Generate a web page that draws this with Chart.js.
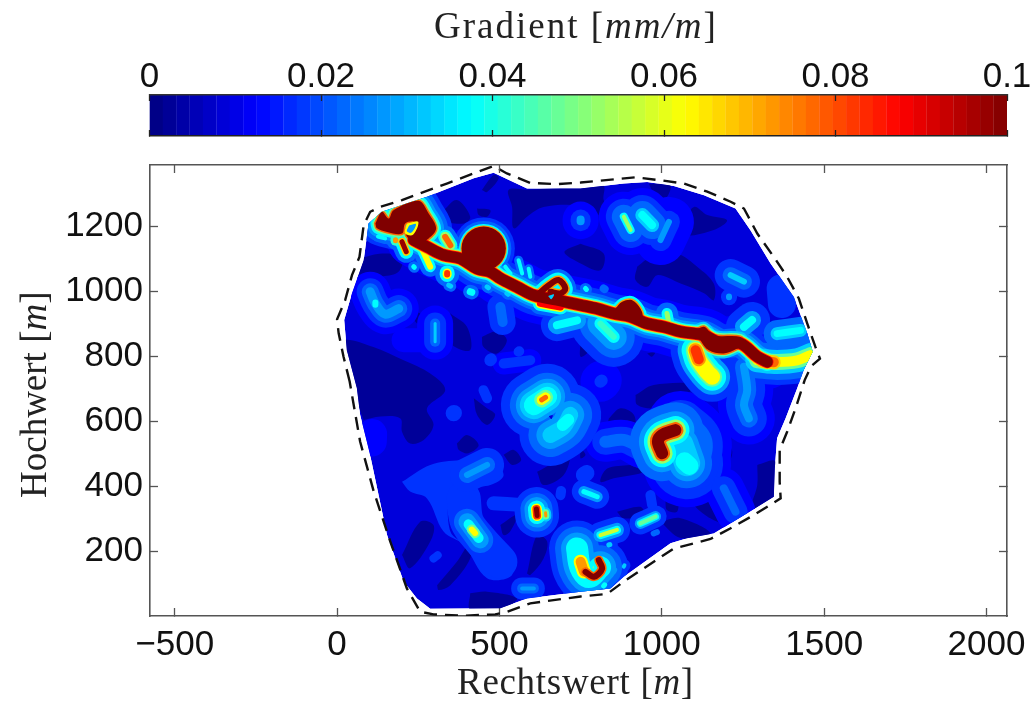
<!DOCTYPE html>
<html>
<head>
<meta charset="utf-8">
<title>Gradient</title>
<script src="https://cdn.jsdelivr.net/npm/chart.js@4"></script>
<style>
    html, body { margin: 0; padding: 0; background: #fff; }
    body { width: 1036px; height: 701px; position: relative; overflow: hidden; }
    canvas { position: absolute; left: 0; top: 0; filter: blur(0.5px); }
    .titulo { position: absolute; font-family: "Liberation Serif", serif; font-size: 37px; color: #222; white-space: nowrap; filter: blur(0.3px); }
</style>
</head>
<body>
<canvas id="mapa" width="1036" height="701"></canvas>
<canvas id="barra" width="1036" height="150"></canvas>
<div class="titulo" style="left:434px;top:4px;letter-spacing:2px">Gradient [<i>mm/m</i>]</div>
<div class="titulo" style="left:457px;top:660px;letter-spacing:0.7px">Rechtswert [<i>m</i>]</div>
<div class="titulo" style="left:12px;top:498px;transform-origin:0 0;transform:rotate(-90deg)">Hochwert [<i>m</i>]</div>
<script>
// axis ticks
const xTicks = [-500, 0, 500, 1000, 1500, 2000];
const yTicks = [200, 400, 600, 800, 1000, 1200];
const barTicks = [0, 0.02, 0.04, 0.06, 0.08, 0.1];
const barSteps = [0,1,2,3,4,5,6,7,8,9,10,11,12,13,14,15,16,17,18,19,20,21,22,23,24,25,26,27,28,29,30,31,
    32,33,34,35,36,37,38,39,40,41,42,43,44,45,46,47,48,49,50,51,52,53,54,55,56,57,58,59,60,61,62,63];

// outlines, flat x,y in metres
const fieldOutline = [61,701, 30,818, 22,911, 46,993, 82,1095, 97,1208, 138,1244, 277,1290, 421,1347, 482,1364, 518,1347, 585,1316,
    749,1316, 883,1331, 955,1336, 1037,1323, 1130,1295, 1227,1254, 1273,1187, 1335,1085, 1407,982, 1448,870, 1465,813, 1437,757,
    1417,701, 1381,608, 1355,547, 1348,454, 1345,367, 1263,316, 1160,254, 1078,239, 1027,224, 883,121, 842,85, 750,75, 585,54,
    503,24, 287,22, 246,54, 205,106, 154,249, 102,495, 71,619];
const surveyBoundary = [39,721, 20,798, 5,870, 0,913, 25,972, 46,1049, 69,1105, 82,1203, 102,1244, 133,1259, 200,1280, 338,1331,
    482,1385, 523,1362, 595,1333, 677,1329, 750,1334, 919,1350, 996,1341, 1068,1331, 1140,1306, 1212,1275, 1253,1254, 1294,1177,
    1345,1105, 1386,1044, 1422,977, 1448,900, 1473,828, 1487,792, 1460,769, 1440,726, 1412,639, 1386,567, 1363,511, 1363,413,
    1366,362, 1284,311, 1212,270, 1150,237, 1078,218, 1037,208, 945,147, 883,106, 832,68, 750,60, 595,39, 523,13, 487,5, 390,1,
    297,5, 256,13, 215,85, 164,229, 113,383, 71,537, 46,680, 39,721];

// lowest contour (navy patches)
const navyPatches = [
    [82,603, 133,614, 195,608, 200,567, 225,531, 267,542, 297,588, 277,639, 333,695, 287,746, 205,787, 112,828, 20,849, 20,800, 50,690],
    [70,1100, 130,1115, 200,1105, 190,1060, 140,1045, 60,1040],
    [328,1249, 369,1280, 410,1229, 390,1208, 328,1218],
    [431,1254, 472,1249, 462,1229, 436,1234],
    [446,1311, 482,1357, 498,1347, 462,1305],
    [585,1312, 749,1320, 820,1325, 821,1280, 852,1208, 847,1188, 791,1249, 750,1264, 636,1259, 585,1229, 544,1193, 539,1259, 528,1311],
    [960,1330, 1027,1325, 1000,1270, 980,1290],
    [1063,1208, 1099,1259, 1140,1234, 1201,1218, 1160,1188, 1068,1172],
    [924,1075, 975,1110, 1047,1116, 1109,1075, 1160,1023, 1160,972, 1130,993, 1058,1023, 986,1049, 955,1013, 919,1034],
    [750,1146, 821,1116, 811,1064, 750,1085, 700,1120],
    [349,931, 400,890, 410,818, 349,839, 328,910],
    [446,859, 492,875, 523,849, 492,808, 451,828],
    [226,931, 256,931, 277,880, 246,900],
    [421,670, 462,639, 487,619, 462,588, 431,619],
    [369,531, 400,557, 436,526, 405,501, 375,511],
    [513,496, 544,511, 567,480, 539,465],
    [616,444, 713,490, 698,434, 636,403],
    [903,465, 945,444, 852,424, 811,413, 832,454],
    [200,188, 256,290, 297,280, 287,229, 225,147],
    [308,95, 369,167, 405,218, 410,177, 349,95, 313,80],
    [585,131, 616,249, 647,229, 636,177, 595,126],
    [503,280, 554,311, 533,260, 513,249],
    [410,70, 462,75, 554,54, 503,20, 410,20],
    [919,680, 975,711, 1099,711, 1047,660, 975,639, 924,650],
    [837,608, 873,639, 914,619, 914,578, 862,557, 832,578],
    [1181,506, 1196,537, 1217,506, 1201,465, 1181,475],
    [1078,372, 1130,377, 1181,290, 1140,306, 1088,352],
    [1294,465, 1350,475, 1350,365, 1278,331, 1294,403],
    [996,290, 1058,301, 1150,254, 1058,240],
    [1011,357, 1047,357, 1047,321, 1016,326],
    [862,321, 934,336, 945,311, 883,301],
    [873,787, 914,803, 904,782, 878,777],
    [955,808, 980,813, 970,798],
    [750,516, 765,496, 750,485],
    [750,849, 775,818, 750,798]
];

// closed shapes
const southPatch = [200,413, 287,465, 380,480, 472,485, 513,434, 472,403, 359,383, 349,260, 410,219, 513,198, 539,126, 462,116,
    390,219, 328,260, 277,362, 225,383];
const crownBlob = [118,1208, 138,1244, 159,1223, 174,1249, 251,1278, 282,1239, 305,1193, 282,1162, 241,1146, 210,1182, 236,1213,
    210,1208, 200,1177, 154,1182, 123,1193];
const crownHoleRim = [216,1208, 250,1213, 234,1173, 209,1178];
const crownHole = [222,1202, 243,1206, 229,1180, 215,1184];
const humpBlob = [857,946, 878,967, 909,972, 934,946, 939,921, 883,916];
const knotBlob = [1104,880, 1130,890, 1160,864, 1242,859, 1253,839, 1232,823, 1191,808, 1145,818, 1119,849];

// streaks
const ridgeLine = [236,1157, 277,1136, 328,1111, 380,1100, 431,1069, 472,1059, 503,1039, 554,1013, 606,987, 677,972, 750,957,
    801,946, 852,931, 904,921, 955,900, 1006,890, 1058,875, 1130,864, 1181,839, 1242,839, 1294,798, 1325,782];
const circleCentre = [451,1131, 452,1131];
const loopLine = [616,987, 652,1018, 682,1034, 703,1008, 688,993, 657,998];
const loopLower = [626,962, 688,951];
const loopHole = [650,985, 668,990, 660,975];
const leftLobe = [102,998, 118,962, 148,929, 190,946];
const leftLobePeak = [118,965, 118,958];
const branchA = [261,1131, 287,1075];
const branchB = [339,1056, 339,1051];
const branchC = [333,1167, 349,1141];
const branchD = [200,1152, 213,1121];
const branchE = [180,1158, 180,1155];
const lowerLobe = [1104,818, 1114,787, 1140,751, 1155,736];
const lowerLobeHot = [1104,818, 1114,790];
const tailLine = [1294,787, 1355,782, 1417,787, 1458,803];
const tailHot = [1310,785, 1345,781];
const southFinger = [1253,767, 1263,695, 1253,650, 1268,608];
const humpHill = [811,900, 852,859];
const hillB = [677,895, 739,910];
const hillC = [1016,931, 1026,880];
const hillD = [1253,890, 1278,911];
const hillE = [1355,869, 1427,879];
const eastSpot = [1212,1049, 1253,1029];
const eastDot = [1207,983, 1207,981];
const eastPatch = [1366,1008, 1370,960];
const northA = [883,1229, 904,1188];
const northB = [940,1234, 970,1203];
const northC = [1022,1213, 996,1157];
const northD = [750,1220, 750,1215];
const centreA = [606,649, 647,675];
const centreAPeak = [630,665, 642,673];
const centreB = [718,619, 698,583, 657,557];
const centreBCore = [712,604, 695,588];
const centreHole = [652,615, 664,618, 660,606];
const crescent = [1042,572, 1001,557, 988,537, 1001,501];
const crescentHill = [1078,470, 1058,526];
const crescentCore = [1070,476, 1085,462];
const crescentWing = [1058,588, 1109,537, 1099,465];
const southA = [405,282, 436,240];
const southAWide = [400,290, 441,234];
const southAPeak = [415,266, 425,255];
const southAUp = [390,362, 400,290, 441,234, 503,167];
const southB = [400,434, 462,465];
const crossA = [614,329, 616,309];
const crossB = [642,318, 643,308];
const crossArm = [482,347, 564,342];
const crossDot = [688,372, 690,385];
const footA = [570,85, 606,85];
const footB = [297,177, 310,187];
const edgeLobe = [107,537, 108,560];
const spotA = [359,624, 360,625];
const spotB = [451,695, 462,670];
const horseshoe = [806,172, 816,145, 791,121, 765,136];
const horseshoeHot = [750,167, 760,137];
const horseshoeHalo = [739,208, 749,150, 775,120, 810,150];
const horseshoeHole = [786,147, 792,147, 789,155];
const stripeA = [811,249, 862,265];
const stripeB = [934,285, 981,306];
const stripeC = [760,383, 801,367];
const stripeD = [965,372, 970,342];
const dotA = [837,219, 840,220];
const dotB = [883,152, 885,156];
const dotC = [975,254, 985,258];
const dotD = [821,92, 824,96];
const dotE = [852,136, 855,142];
const westBar = [826,536, 883,542, 939,516];
const westDot = [760,434, 768,440];
const foreA = [1191,393, 1227,321];
const midA = [302,900, 302,844];
const midB = [205,849, 287,849];
const midC = [513,777, 595,787];
const midD = [559,813, 561,815];
const midE = [472,787, 474,790];
const midF = [811,721, 815,725];
const midG = [503,951, 510,905];
const speckA = [236,1075, 238,1073];
const speckB = [410,998, 415,996];
const speckC = [344,1018, 350,1015];
const speckD = [462,1013, 466,1010];
const speckE = [523,993, 527,990];
const speckF = [148,1162, 126,1168];
const speckG = [765,1008, 768,1005];
const speckH = [821,1008, 824,1006];
const fingerA = [518,1075, 534,1054];
const fingerB = [559,1095, 570,1054];
const fingerC = [590,1069, 595,1044];

// contour steps of the colour scale: level i is the band 0.005*i .. 0.005*(i+1), 20 is clipped at 0.1
function jet(t) {
    var canal = function (v) { return Math.round(255 * Math.max(0, Math.min(1, v))); };
    return 'rgb(' + canal(1.5 - Math.abs(4 * t - 3)) + ',' + canal(1.5 - Math.abs(4 * t - 2)) + ',' + canal(1.5 - Math.abs(4 * t - 1)) + ')';
}
function corNivel(n) {
    if (n >= 20) return 'rgb(128,0,0)';
    if (n === 1) return jet(0.09);
    return jet((n + 0.5) * 0.05);
}
function pontos(plano) {
    var lista = [];
    for (var i = 0; i < plano.length; i += 2) lista.push({ x: plano[i], y: plano[i + 1] });
    return lista;
}
function fechado(plano) {
    return pontos(plano.concat([plano[0], plano[1]]));
}

// [shape, [[level, stroke width in px], ...]]
const redBands = [[20, 0], [15, 3], [9, 6], [7, 10], [5, 16], [4, 24], [3, 32]];
const lineLayers = [
    [ridgeLine, [[20, 11], [17, 12.5], [13, 14], [9, 15.5], [7, 18], [5, 23], [4, 29], [3, 39], [2, 54]]],
    [circleCentre, [[20, 44], [14, 46], [7, 49], [4, 55], [3, 62]]],
    [loopLine, [[20, 6], [14, 9], [7, 15], [4, 22]]],
    [loopLower, [[17, 7], [12, 10], [7, 15], [4, 22]]],
    [leftLobe, [[5, 9], [4, 17], [3, 27], [2, 40]]],
    [leftLobePeak, [[7, 6]]],
    [branchA, [[12, 6], [7, 11], [4, 20]]],
    [branchB, [[16, 6], [12, 9], [7, 15], [4, 24]]],
    [branchC, [[15, 6], [10, 10], [7, 14], [4, 22]]],
    [branchD, [[19, 5], [13, 8], [7, 14], [4, 22]]],
    [branchE, [[14, 5], [8, 10], [4, 18]]],
    [lowerLobe, [[12, 16], [9, 20], [7, 28], [5, 36], [3, 50]]],
    [lowerLobeHot, [[16, 10], [14, 14]]],
    [tailLine, [[12, 10], [9, 16], [6, 24], [4, 36], [3, 46]]],
    [tailHot, [[15, 10], [13, 14]]],
    [southFinger, [[5, 8], [4, 18], [3, 36], [2, 52]]],
    [humpHill, [[8, 6], [7, 12], [5, 26], [4, 42], [3, 60]]],
    [hillB, [[7, 8], [5, 18], [3, 32]]],
    [hillC, [[10, 5], [7, 11], [4, 22]]],
    [hillD, [[7, 8], [5, 18], [3, 36]]],
    [hillE, [[7, 7], [6, 13], [4, 27]]],
    [eastSpot, [[6, 6], [4, 16], [3, 32]]],
    [eastDot, [[5, 6], [3, 16]]],
    [eastPatch, [[3, 28]]],
    [northA, [[10, 4], [7, 8], [4, 24], [3, 36], [2, 50]]],
    [northB, [[7, 8], [6, 14], [4, 28], [3, 40], [2, 54]]],
    [northC, [[5, 6], [3, 22], [2, 50]]],
    [northD, [[5, 8], [3, 20], [2, 36]]],
    [centreA, [[7, 20], [6, 28], [5, 36], [4, 48], [3, 66]]],
    [centreAPeak, [[15, 5], [12, 10], [9, 15]]],
    [centreB, [[6, 16], [5, 28], [4, 44], [3, 62]]],
    [centreBCore, [[7, 12]]],
    [crescent, [[20, 12], [15, 16], [10, 21], [7, 28], [5, 38], [4, 56]]],
    [crescentHill, [[6, 26], [5, 36], [4, 50], [3, 72], [2, 88]]],
    [crescentCore, [[7, 18]]],
    [crescentWing, [[4, 30], [3, 50], [2, 68]]],
    [southAPeak, [[12, 6], [9, 10]]],
    [southA, [[7, 10]]],
    [southAWide, [[5, 17], [4, 26]]],
    [southAUp, [[3, 34]]],
    [southB, [[5, 6], [4, 16], [3, 34]]],
    [crossA, [[20, 5], [16, 8], [12, 11], [7, 17], [5, 24], [4, 32], [3, 44]]],
    [crossB, [[14, 3], [9, 7], [6, 11]]],
    [crossArm, [[3, 14]]],
    [crossDot, [[3, 10]]],
    [footA, [[5, 4], [4, 10], [3, 22]]],
    [footB, [[3, 8]]],
    [edgeLobe, [[2, 30]]],
    [spotA, [[3, 16]]],
    [spotB, [[3, 10]]],
    [horseshoeHalo, [[7, 22], [5, 32], [4, 44], [3, 56]]],
    [horseshoeHot, [[14, 10], [12, 14]]],
    [horseshoe, [[20, 6], [15, 9]]],
    [stripeA, [[11, 4], [7, 8], [5, 14], [3, 26]]],
    [stripeB, [[9, 4], [7, 7], [5, 11], [3, 22]]],
    [stripeC, [[7, 5], [5, 11], [3, 24]]],
    [stripeD, [[3, 10]]],
    [dotA, [[6, 5], [3, 16]]],
    [dotB, [[6, 4], [3, 12]]],
    [dotC, [[4, 6]]],
    [dotD, [[7, 5], [4, 12]]],
    [dotE, [[5, 5], [3, 12]]],
    [westBar, [[4, 12], [3, 26], [2, 40]]],
    [westDot, [[3, 16]]],
    [foreA, [[4, 8], [3, 24], [2, 40]]],
    [midA, [[6, 3], [4, 10], [3, 22], [2, 36]]],
    [midB, [[2, 24]]],
    [midC, [[3, 10], [2, 22]]],
    [midD, [[3, 10]]],
    [midE, [[3, 12]]],
    [midF, [[3, 12], [2, 40]]],
    [midG, [[4, 10], [3, 26]]],
    [speckA, [[7, 5], [4, 11]]],
    [speckB, [[7, 7], [4, 14]]],
    [speckC, [[6, 5], [4, 11]]],
    [speckD, [[6, 5], [4, 11]]],
    [speckE, [[6, 5], [4, 11]]],
    [speckF, [[7, 4], [4, 11]]],
    [speckG, [[7, 5], [4, 11]]],
    [speckH, [[4, 8]]],
    [fingerA, [[7, 4], [4, 9]]],
    [fingerB, [[7, 4], [4, 9]]],
    [fingerC, [[7, 4], [4, 9]]]
];
const ringLayers = [
    [fieldOutline, [[1, 0]]],
    [southPatch, [[3, 0]]],
    [crownBlob, redBands],
    [humpBlob, [[20, 0], [14, 3], [7, 8]]],
    [knotBlob, [[20, 0], [15, 3], [9, 6], [6, 10]]]
];
navyPatches.forEach(function (p) { ringLayers.push([p, [[0, 0]]]); });

// painted above the sorted contours
const holeLayers = [
    [crownHoleRim, 12],
    [crownHole, 5],
    [loopHole, 6],
    [centreHole, 1],
    [horseshoeHole, 9]
];

function montarDatasets() {
    var faixas = [];
    ringLayers.forEach(function (c) {
        c[1].forEach(function (b) { faixas.push({ nivel: b[0], largura: b[1], dados: fechado(c[0]), fill: 'shape', base: c[0] === fieldOutline }); });
    });
    lineLayers.forEach(function (c) {
        c[1].forEach(function (b) { faixas.push({ nivel: b[0], largura: b[1], dados: pontos(c[0]), fill: false }); });
    });
    // base field has to stay under everything, then low to high
    faixas.sort(function (a, b) {
        return (b.base ? 1 : 0) - (a.base ? 1 : 0) || a.nivel - b.nivel;
    });
    holeLayers.forEach(function (h) {
        faixas.push({ nivel: h[1], largura: 0, dados: fechado(h[0]), fill: 'shape' });
    });
    var lista = faixas.map(function (f) {
        var cor = corNivel(f.nivel);
        return {
            data: f.dados, showLine: true, pointRadius: 0, pointHitRadius: 0,
            borderColor: cor, backgroundColor: cor, borderWidth: f.largura,
            borderCapStyle: 'round', borderJoinStyle: 'round', fill: f.fill,
            tension: f.base ? 0 : 0.35
        };
    });
    lista.push({
        data: pontos(surveyBoundary), showLine: true, pointRadius: 0, fill: false, tension: 0,
        borderColor: '#111', borderWidth: 2.4, borderDash: [13, 8], borderCapStyle: 'butt'
    });
    // chart.js paints the last dataset first
    return lista.reverse();
}

// keeps the contours inside the surveyed field, the dashed line (index 0) stays outside the clip
const recorteCampo = {
    id: 'recorteCampo',
    beforeDatasetsDraw: function (chart) {
        var ctx = chart.ctx, xs = chart.scales.x, ys = chart.scales.y;
        ctx.save();
        ctx.beginPath();
        pontos(fieldOutline).forEach(function (p, i) {
            var px = xs.getPixelForValue(p.x), py = ys.getPixelForValue(p.y);
            if (i === 0) ctx.moveTo(px, py); else ctx.lineTo(px, py);
        });
        ctx.closePath();
        ctx.clip();
    },
    beforeDatasetDraw: function (chart, args) {
        if (args.index === 0) chart.ctx.restore();
    }
};

const corEixo = '#555';
const fonteNum = { family: '"Liberation Sans", Arial, sans-serif', size: 35 };
function fixarTicks(valores) {
    return function (s) { s.ticks = valores.map(function (v) { return { value: v }; }); };
}
function semSobra(s) {
    s.paddingLeft = s.paddingRight = s.paddingTop = s.paddingBottom = 0;
}
function eixoMudo(pos, min, max, valores, comp, cor) {
    return {
        type: 'linear', position: pos, min: min, max: max, offset: false,
        afterBuildTicks: fixarTicks(valores),
        afterFit: function (s) { semSobra(s); if (s.isHorizontal()) s.height = 0; else s.width = 0; },
        ticks: { display: false, autoSkip: false },
        border: { display: true, color: cor, width: 1.6, z: 1 },
        grid: { offset: false, drawOnChartArea: false, color: cor, tickColor: cor, tickWidth: 1.3, tickLength: comp, z: 1 }
    };
}
function rotulo(v) {
    return String(v).replace('-', '\u2212');
}

new Chart(document.getElementById('mapa'), {
    type: 'scatter',
    data: { datasets: montarDatasets() },
    plugins: [recorteCampo],
    options: {
        responsive: false, animation: false, events: [],
        layout: { padding: { left: 0, right: 29, top: 165, bottom: 0 } },
        plugins: { legend: { display: false }, tooltip: { enabled: false } },
        scales: {
            x: {
                type: 'linear', position: 'bottom', min: -576, max: 2063,
                afterBuildTicks: fixarTicks(xTicks),
                afterFit: function (s) { semSobra(s); s.height = 85; },
                ticks: { autoSkip: false, maxRotation: 0, color: '#111', font: fonteNum, padding: 16, callback: rotulo },
                border: { display: true, color: corEixo, width: 1.6 },
                grid: { drawOnChartArea: false, color: corEixo, tickColor: corEixo, tickWidth: 1.3, tickLength: -8 }
            },
            y: {
                type: 'linear', position: 'left', min: 0, max: 1388,
                afterBuildTicks: fixarTicks(yTicks),
                afterFit: function (s) { semSobra(s); s.width = 150; },
                ticks: { autoSkip: false, color: '#111', font: fonteNum, padding: 15, callback: rotulo },
                border: { display: true, color: corEixo, width: 1.6 },
                grid: { drawOnChartArea: false, color: corEixo, tickColor: corEixo, tickWidth: 1.3, tickLength: -8 }
            },
            xTopo: eixoMudo('top', -576, 2063, xTicks, -8, corEixo),
            yDir: eixoMudo('right', 0, 1388, yTicks, -8, corEixo)
        }
    }
});

new Chart(document.getElementById('barra'), {
    type: 'bar',
    data: {
        labels: barSteps,
        datasets: [{
            data: barSteps.map(function () { return 1; }),
            backgroundColor: barSteps.map(function (n) { return jet((n + 0.5) / barSteps.length); }),
            borderWidth: 0, barPercentage: 1.02, categoryPercentage: 1
        }]
    },
    options: {
        responsive: false, animation: false, events: [],
        layout: { padding: { left: 149.5, right: 29, top: 0, bottom: 14 } },
        plugins: { legend: { display: false }, tooltip: { enabled: false } },
        scales: {
            x: { display: false },
            y: { display: false, min: 0, max: 1 },
            barTopo: {
                type: 'linear', position: 'top', min: 0, max: 0.1, offset: false,
                afterBuildTicks: fixarTicks(barTicks),
                // labels are clipped to the scale box, so the box has to reach up to them
                afterFit: function (s) { semSobra(s); s.height = 95; },
                ticks: { autoSkip: false, maxRotation: 0, color: '#111', font: fonteNum, padding: 3, callback: rotulo },
                border: { display: true, color: '#333', width: 1.6, z: 1 },
                grid: { offset: false, drawOnChartArea: false, color: '#222', tickColor: '#222', tickWidth: 1.3, tickLength: -6, z: 1 }
            },
            barBase: eixoMudo('bottom', 0, 0.1, barTicks, -6, '#222')
        }
    }
});
</script>
</body>
</html>
